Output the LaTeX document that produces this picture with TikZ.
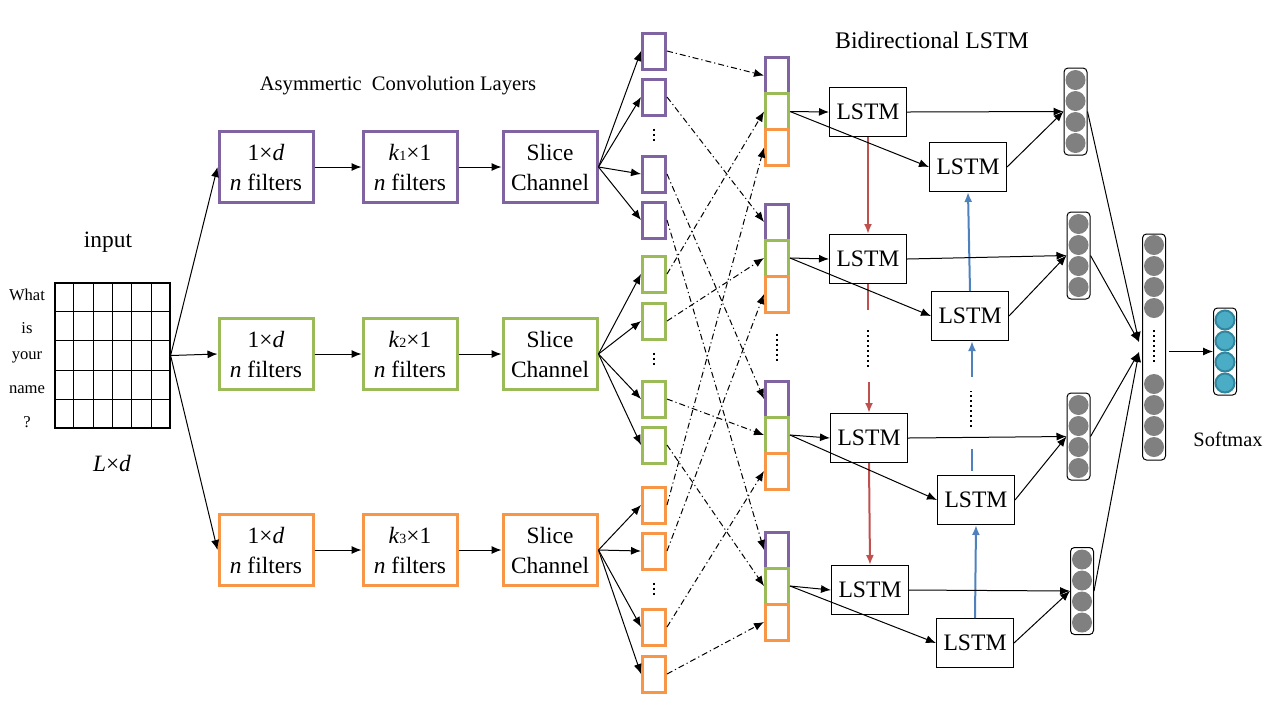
\documentclass[tikz,border=0pt]{standalone}
\usepackage{fontspec}
\setmainfont{Liberation Serif}
\usetikzlibrary{arrows.meta, calc}

\definecolor{convpurple}{HTML}{8064A2}
\definecolor{convgreen}{HTML}{9BBB59}
\definecolor{convorange}{HTML}{F79646}
\definecolor{fwdred}{HTML}{C0504D}
\definecolor{bwdblue}{HTML}{4F81BD}
\definecolor{cellgray}{HTML}{808080}
\definecolor{softteal}{HTML}{4BACC6}
\definecolor{softedge}{HTML}{31859C}

\begin{document}
\begin{tikzpicture}[>={Latex[length=5pt,width=4pt]}, x=0.5pt, y=-0.5pt,
  convbox/.style={draw=#1, line width=1.5pt, minimum width=47pt, minimum height=35.5pt,
                  align=center, inner sep=0pt, font=\fontsize{11.7}{15}\selectfont},
  slicebox/.style={draw=#1, line width=1.5pt, minimum width=11.5pt, minimum height=18pt, inner sep=0pt},
  lstm/.style={draw, line width=0.5pt, minimum width=38.5pt, minimum height=24.5pt,
               font=\fontsize{11.8}{13}\selectfont},
  vec/.style={draw, rounded corners=2pt, line width=0.5pt, minimum width=11.5pt,
              minimum height=#1, inner sep=0pt},
  cell/.style={circle, fill=cellgray, minimum size=10pt, inner sep=0pt},
  softcell/.style={circle, fill=softteal, draw=softedge, line width=1pt, minimum size=9.5pt, inner sep=0pt},
  link/.style={->, line width=0.5pt},
  cross/.style={->, line width=0.5pt, dash pattern=on 3pt off 1.5pt on 0.6pt off 1.5pt},
  dots/.style={line width=1pt, dash pattern=on 1pt off 1.5pt},
  label/.style={font=\fontsize{#1}{#1}\selectfont}
]
  \useasboundingbox (0,0) rectangle (1280,720);

  % Input sentence matrix
  \node[draw, line width=0.6pt, minimum width=57.5pt, minimum height=72.5pt, inner sep=0pt]
    (input) at (112.5,355.5) {};
  \foreach \i in {1,...,5}
    \draw[line width=0.6pt] ($(input.north west)!\i/6!(input.north east)$) -- ($(input.south west)!\i/6!(input.south east)$);
  \foreach \i in {1,...,4}
    \draw[line width=0.6pt] ($(input.north west)!\i/5!(input.south west)$) -- ($(input.north east)!\i/5!(input.south east)$);
  \foreach \w/\y [count=\i] in {What/295, is/328, your/357, name/390, ?/422}
    \node[label=8.3] (word\i) at (27,\y) {\w};
  \node[label=11.7] (inputlbl) at (108,242) {input};
  \node[label=11.7] (sizelbl) at (112,463) {\textit{L}×\textit{d}};

  % Asymmetric convolutions
  \node[label=10.3] (convtitle) at (398,86) {Asymmertic \ Convolution Layers};
  \foreach \n/\y/\c in {1/167/convpurple, 2/354/convgreen, 3/550/convorange} {
    \node[convbox=\c] (onebyd\n) at (266,\y) {1×\textit{d}\\\textit{n} filters};
    \node[convbox=\c] (kbyone\n) at (410,\y) {\textit{k}{\scriptsize\n}×1\\\textit{n} filters};
    \node[convbox=\c] (slice\n) at (550,\y) {Slice\\Channel};
    \draw[link] (input.east) -- (onebyd\n.west);
    \draw[link] (onebyd\n.east) -- (kbyone\n.west);
    \draw[link] (kbyone\n.east) -- (slice\n.west);
  }

  % Sliced channels
  \foreach \n/\y in {1/51, 2/97, 3/174, 4/220}
    \node[slicebox=convpurple] (p\n) at (654,\y) {};
  \foreach \n/\y in {1/274, 2/321, 3/399, 4/445}
    \node[slicebox=convgreen] (g\n) at (654,\y) {};
  \foreach \n/\y in {1/505, 2/551, 3/627, 4/674}
    \node[slicebox=convorange] (o\n) at (654,\y) {};
  \foreach \n in {1,...,4} {
    \draw[link] (slice1.east) -- (p\n.west);
    \draw[link] (slice2.east) -- (g\n.west);
    \draw[link] (slice3.east) -- (o\n.west);
  }
  \draw[dots] ($(p2.south)+(0,12)$) -- ($(p3.north)+(0,-12)$);
  \draw[dots] ($(g2.south)+(0,12)$) -- ($(g3.north)+(0,-12)$);
  \draw[dots] ($(o2.south)+(0,12)$) -- ($(o3.north)+(0,-10)$);

  % Regrouped channels
  \foreach \n/\y in {1/75.5, 2/222, 3/399, 4/550} {
    \node[slicebox=convpurple] (s\n p) at (777,\y) {};
    \node[slicebox=convgreen] (s\n g) at (777,\y+36) {};
    \node[slicebox=convorange] (s\n o) at (777,\y+72) {};
  }
  \draw[dots] ($(s2o.south)+(0,20)$) -- ($(s3p.north)+(0,-18)$);
  \foreach \n in {1,...,4} {
    \draw[cross] (p\n.east) -- (s\n p.west);
    \draw[cross] (g\n.east) -- (s\n g.west);
    \draw[cross] (o\n.east) -- (s\n o.west);
  }

  % Bidirectional LSTM
  \node[label=11.9] (lstmtitle) at (932,40) {Bidirectional LSTM};
  \node[lstm] (f1) at (868,112) {LSTM};
  \node[lstm] (f2) at (868,259) {LSTM};
  \node[lstm] (f3) at (869,438) {LSTM};
  \node[lstm] (f4) at (870,590) {LSTM};
  \node[lstm] (b1) at (968,167) {LSTM};
  \node[lstm] (b2) at (970,316) {LSTM};
  \node[lstm] (b3) at (976,500) {LSTM};
  \node[lstm] (b4) at (975,643) {LSTM};

  \draw[->, fwdred, line width=1pt] (f1.south) -- (f2.north);
  \draw[fwdred, line width=1pt] (f2.south) -- ++(0,26);
  \draw[dots] ($(f2.south)+(0,46)$) -- ++(0,37);
  \draw[->, fwdred, line width=1pt] ($(f3.north)+(0,-31)$) -- (f3.north);
  \draw[->, fwdred, line width=1pt] (f3.south) -- (f4.north);

  \draw[->, bwdblue, line width=1pt] (b2.north) -- (b1.south);
  \draw[->, bwdblue, line width=1pt] ($(b2.south)+(2,36)$) -- ($(b2.south)+(2,0)$);
  \draw[dots] ($(b3.north)+(-5,-48)$) -- ++(0,-36);
  \draw[bwdblue, line width=1pt] ($(b3.north)+(-4,-4)$) -- ++(0,-22);
  \draw[->, bwdblue, line width=1pt] (b4.north) -- (b3.south);

  % Hidden state outputs
  \foreach \n/\x/\y in {1/1075.5/111.5, 2/1078.5/255.5, 3/1078.5/436.5, 4/1082/591} {
    \node[vec=43.5pt] (v\n) at (\x,\y) {};
    \foreach \k in {-31.5,-10.5,10.5,31.5}
      \node[cell] at ($(v\n)+(0,\k)$) {};
    \draw[link] (s\n g.east) -- (f\n.west);
    \draw[link] (s\n g.east) -- (b\n.west);
    \draw[link] (f\n.east) -- (v\n.west);
    \draw[link] (b\n.east) -- (v\n.west);
  }

  % Concatenation and softmax
  \node[vec=113pt] (big) at (1154,347) {};
  \foreach \k in {-102,-81,-60,-39,37,58,79,100}
    \node[cell] at ($(big)+(0,\k)$) {};
  \draw[dots] ($(big)+(0,-17)$) -- ++(0,33);
  \draw[link] (v1.east) -- ($(big.west)+(-3,-5)$);
  \draw[link] (v2.east) -- ($(big.west)+(-3,-5)$);
  \draw[link] (v3.east) -- ($(big.west)+(-3,5)$);
  \draw[link] (v4.east) -- ($(big.west)+(-3,5)$);

  \node[vec=43.5pt] (soft) at (1225,351.5) {};
  \foreach \k in {-31.5,-10.5,10.5,31.5}
    \node[softcell] at ($(soft)+(0,\k)$) {};
  \draw[link, shorten <=1.5pt] (big.east |- soft.west) -- (soft.west);
  \node[label=10.2] (softlbl) at (1228,439) {Softmax};
\end{tikzpicture}
\end{document}
